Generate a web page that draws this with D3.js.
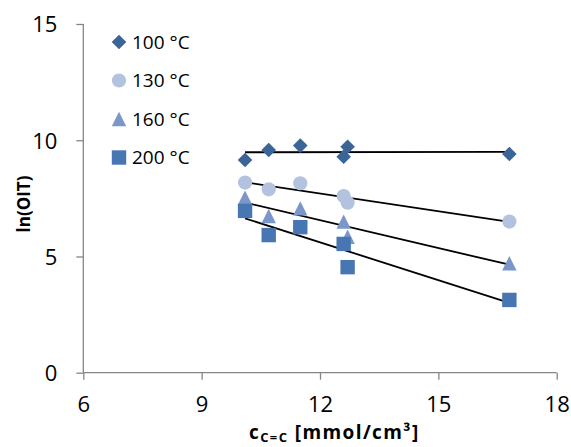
<!DOCTYPE html>
<html>
<head>
<meta charset="utf-8">
<script src="https://cdn.jsdelivr.net/npm/d3@7"></script>
<style>
  body { margin: 0; background: #fff; }
  svg text { font-family: "Open Sans", sans-serif; fill: #000; }
</style>
</head>
<body>
<svg id="chart" width="571" height="447"></svg>
<script>
// data
const concentration = [10.1, 10.7, 11.5, 12.6, 12.7, 16.8];
const seriesNames = ["100 °C", "130 °C", "160 °C", "200 °C"];
const oit100 = [9.15, 9.58, 9.77, 9.29, 9.72, 9.41];
const oit130 = [8.18, 7.89, 8.15, 7.60, 7.31, 6.50];
const oit160 = [7.53, 6.74, 7.07, 6.50, 5.85, 4.71];
const oit200 = [6.96, 5.92, 6.26, 5.54, 4.54, 3.13];
const xTicks = [6, 9, 12, 15, 18];
const yTicks = [0, 5, 10, 15];

const seriesValues = [oit100, oit130, oit160, oit200];

// styles
const markers = [
  { shape: "diamond", color: "#3b6497" },
  { shape: "circle", color: "#b3c2df" },
  { shape: "triangle", color: "#7b97ca" },
  { shape: "square", color: "#4876b3" }
];
const axisColor = "#868686";

const svg = d3.select("#chart");

const x = d3.scaleLinear().domain([6, 18]).range([83.3, 556.7]);
const y = d3.scaleLinear().domain([0, 15]).range([372.7, 24]);

// marker path around (0,0)
const markerPath = (shape) => {
  const p = d3.path();
  if (shape === "diamond") {
    const h = 7.3;
    p.moveTo(0, -h); p.lineTo(h, 0); p.lineTo(0, h); p.lineTo(-h, 0); p.closePath();
  } else if (shape === "circle") {
    p.arc(0, 0, 7.1, 0, 2 * Math.PI);
  } else if (shape === "triangle") {
    const h = 7.2;
    p.moveTo(0, -h); p.lineTo(h, h); p.lineTo(-h, h); p.closePath();
  } else {
    const h = 7.2;
    p.rect(-h, -h, 2 * h, 2 * h);
  }
  return p.toString();
};

// axes
const xAxis = d3.axisBottom(x).tickValues(xTicks).tickSize(7);
const yAxis = d3.axisLeft(y).tickValues(yTicks).tickSize(7);

const gx = svg.append("g")
  .attr("transform", `translate(0, ${y(0)})`)
  .call(xAxis);
const gy = svg.append("g")
  .attr("transform", `translate(${x(6)}, 0)`)
  .call(yAxis);

[gx, gy].forEach(g => {
  g.select(".domain").attr("stroke", axisColor).attr("stroke-width", 1.3);
  g.selectAll(".tick line").attr("stroke", axisColor).attr("stroke-width", 1.3);
  g.selectAll(".tick text")
    .attr("font-family", "Open Sans, sans-serif")
    .attr("font-size", 22)
    .attr("fill", "#000");
});
gx.select(".domain").attr("d", `M${x(6)},0H${x(18)}`);
gy.select(".domain").attr("d", `M0,${y(0)}V${y(15)}`);
gx.selectAll(".tick text").attr("y", 39).attr("dy", 0);
gy.selectAll(".tick text").attr("x", -26).attr("dy", "0.36em");

// trend lines (least squares, as in the spreadsheet)
const fit = (xs, ys) => {
  const mx = d3.mean(xs), my = d3.mean(ys);
  const sxy = d3.sum(xs, (v, i) => (v - mx) * (ys[i] - my));
  const sxx = d3.sum(xs, v => (v - mx) ** 2);
  const b = sxy / sxx;
  return v => my + b * (v - mx);
};

const [xMin, xMax] = d3.extent(concentration);
seriesValues.forEach(vals => {
  const f = fit(concentration, vals);
  svg.append("line")
    .attr("x1", x(xMin)).attr("y1", y(f(xMin)))
    .attr("x2", x(xMax)).attr("y2", y(f(xMax)))
    .attr("stroke", "#000")
    .attr("stroke-width", 1.8);
});

// points
seriesValues.forEach((vals, s) => {
  svg.append("g")
    .selectAll("path")
    .data(vals)
    .join("path")
    .attr("transform", (d, i) => `translate(${x(concentration[i])}, ${y(d)})`)
    .attr("d", markerPath(markers[s].shape))
    .attr("fill", markers[s].color);
});

// legend
const legend = svg.append("g").attr("transform", "translate(119, 42)");
seriesNames.forEach((name, i) => {
  const row = legend.append("g").attr("transform", `translate(0, ${i * 38.5})`);
  row.append("path")
    .attr("d", markerPath(markers[i].shape))
    .attr("fill", markers[i].color);
  row.append("text")
    .attr("x", 13)
    .attr("dy", "0.36em")
    .attr("font-size", 19)
    .text(name);
});

// axis titles
svg.append("text")
  .attr("transform", `translate(30, 204) rotate(-90)`)
  .attr("text-anchor", "middle")
  .attr("font-size", 17)
  .attr("font-weight", "bold")
  .text("ln(OIT)");

const xt = svg.append("text")
  .attr("x", 249)
  .attr("y", 439)
  .attr("font-size", 19)
  .attr("font-weight", "bold")
  .attr("letter-spacing", 1.4);
xt.append("tspan").text("c");
xt.append("tspan").attr("font-size", 13).attr("dy", 3).text("C=C");
xt.append("tspan").attr("dy", -3).text(" [mmol/cm³]");
</script>
</body>
</html>
